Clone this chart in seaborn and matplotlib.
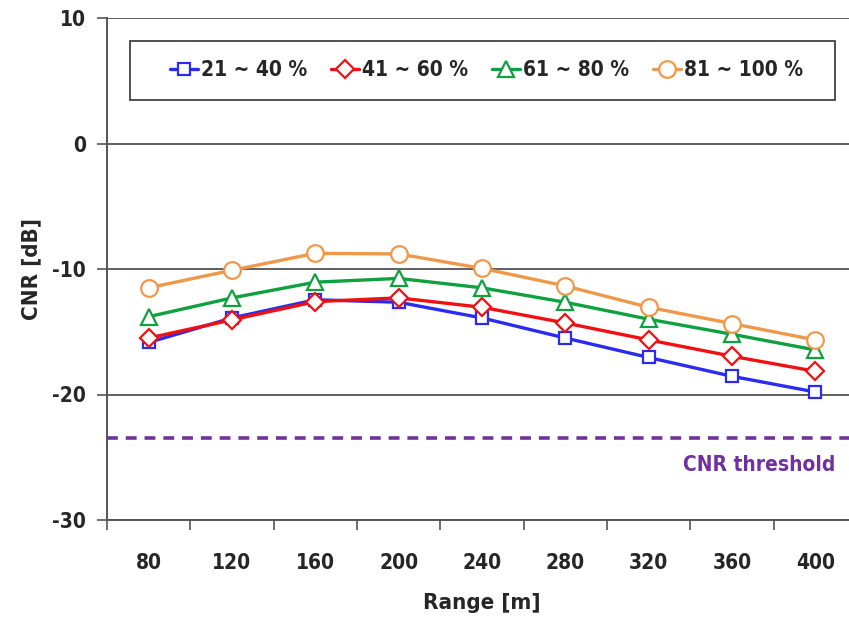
import matplotlib
matplotlib.use("Agg")
import matplotlib.pyplot as plt
import matplotlib.patches as mpatches
import seaborn as sns
import pandas as pd
import numpy as np

ranges = ["80", "120", "160", "200", "240", "280", "320", "360", "400"]
series_names = ["21 ~ 40 %", "41 ~ 60 %", "61 ~ 80 %", "81 ~ 100 %"]
cnr_21_40 = [-15.85, -13.9, -12.45, -12.65, -13.9, -15.5, -17.05, -18.55, -19.8]
cnr_41_60 = [-15.5, -14.05, -12.6, -12.3, -13.05, -14.3, -15.65, -16.95, -18.15]
cnr_61_80 = [-13.8, -12.3, -11.05, -10.75, -11.5, -12.65, -14.0, -15.2, -16.45]
cnr_81_100 = [-11.5, -10.1, -8.75, -8.8, -9.95, -11.35, -13.05, -14.35, -15.65]
threshold = -23.5

sns.set_theme(style="white")
plt.rcParams['font.family'] = ['DejaVu Sans']
plt.rcParams['font.stretch'] = 'condensed'

rows = []
for name, vals in zip(series_names, [cnr_21_40, cnr_41_60, cnr_61_80, cnr_81_100]):
    for r, v in zip(ranges, vals):
        rows.append({"Range": r, "CNR": v, "Series": name})
df = pd.DataFrame(rows)

colors = ["#2B2BF0", "#F01010", "#10A040", "#F0984A"]
markers = ["s", "D", "^", "o"]
msizes = [8, 9, 11, 12]

fig = plt.figure(figsize=(8.49, 6.29), dpi=100)
ax = fig.add_axes([107/849, 1-520/629, (857-107)/849, (520-18)/629])

def ax_x(px):
    return (px - 107) / 750

def ax_y(py):
    return (520 - py) / 502

for name, c, m, ms in zip(series_names, colors, markers, msizes):
    sub = df[df["Series"] == name]
    sns.lineplot(data=sub, x="Range", y="CNR", ax=ax, color=c, marker=m,
                 markersize=ms, markerfacecolor="white", markeredgecolor=c,
                 markeredgewidth=1.6, linewidth=2.4, label=name, sort=False)

ax.axhline(threshold, color="#7030A0", linestyle=(0, (3, 2.2)), linewidth=2.6, zorder=1)
ax.text(ax_x(835), ax_y(465), "CNR threshold",
        transform=ax.transAxes, ha="right", va="center", color="#7030A0",
        fontsize=15, fontweight="bold")

ax.set_xlim(-0.5, 8.5)
ax.set_ylim(-30, 10)
ax.set_yticks([10, 0, -10, -20, -30])
ax.set_yticklabels(["10", "0", "-10", "-20", "-30"])
ax.yaxis.grid(True, color="#444444", linewidth=1.2)
ax.xaxis.grid(False)
for s in ["top", "right"]:
    ax.spines[s].set_visible(False)
ax.spines["left"].set_color("#555555")
ax.spines["bottom"].set_color("#555555")
ax.spines["left"].set_linewidth(1.4)
ax.spines["bottom"].set_linewidth(1.4)

ax.set_xticks(range(len(ranges)))
ax.set_xticklabels(ranges)
ax.set_xticks(np.arange(-0.5, 9.0, 1.0), minor=True)
ax.tick_params(axis="x", which="major", length=0, pad=24, labelsize=15)
ax.tick_params(axis="x", which="minor", length=7, width=1.2, color="#555555", direction="out", bottom=True)
ax.tick_params(axis="y", length=7, width=1.2, color="#555555", direction="out", left=True, labelsize=15, pad=8)
for lab in ax.get_xticklabels() + ax.get_yticklabels():
    lab.set_fontweight("bold")

ax.set_xlabel("Range [m]", fontsize=16, fontweight="bold", labelpad=14)
ax.set_ylabel("CNR [dB]", fontsize=16, fontweight="bold", labelpad=8)

# legend frame drawn as a rectangle, entries spread inside
frame = mpatches.Rectangle((ax_x(130), ax_y(100)), ax_x(835) - ax_x(130), ax_y(41) - ax_y(100),
                           transform=ax.transAxes, facecolor="white", edgecolor="#333333",
                           linewidth=1.2, zorder=4)
ax.add_patch(frame)
leg = ax.legend(loc="center", bbox_to_anchor=(ax_x(170), ax_y(100), ax_x(803) - ax_x(170), ax_y(41) - ax_y(100)),
                mode="expand", ncol=4, frameon=False,
                prop={"size": 15, "weight": "bold"}, handlelength=1.35, handletextpad=0.15,
                columnspacing=1.0, borderpad=0.0, borderaxespad=0)
leg.set_zorder(5)

fig.savefig("out.png", dpi=100)
